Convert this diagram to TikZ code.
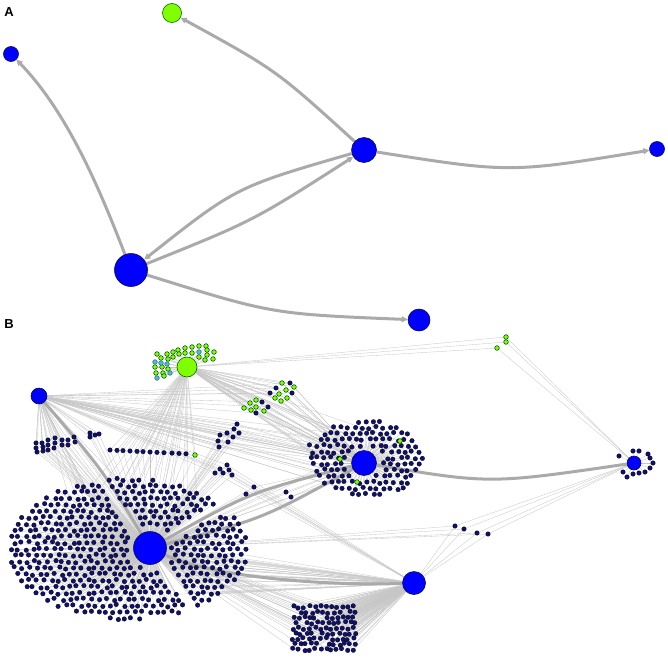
\documentclass[tikz,border=0pt]{standalone}
\usepackage{fontspec}
\setmainfont{Liberation Sans}
\usetikzlibrary{arrows.meta}
\definecolor{navyn}{RGB}{16,16,110}
\definecolor{hubblue}{RGB}{0,0,255}
\definecolor{chart}{RGB}{127,255,0}
\definecolor{cyn}{RGB}{64,192,208}
\definecolor{edgeg}{RGB}{170,170,170}
\definecolor{thing}{RGB}{198,198,198}
\pgfdeclarelayer{thinL}
\pgfdeclarelayer{thickL}
\pgfsetlayers{thinL,thickL,main}
\gdef\edgelist{}
\newcommand\myaddedge[2]{\ifx\edgelist\empty\xdef\edgelist{#1/#2}\else\xdef\edgelist{\edgelist,#1/#2}\fi}
\tikzset{
 hubn/.style={circle, fill=hubblue, draw=navyn!70!black, line width=0.6pt, inner sep=0pt, minimum size=#1},
 greenhub/.style={circle, fill=chart, draw=black!60!green, line width=0.6pt, inner sep=0pt, minimum size=#1},
 sn/.style={circle, fill=navyn, draw=black, line width=0.25pt, inner sep=0pt, minimum size=4.6pt},
 sg/.style={circle, fill=chart, draw=black!65!green, line width=0.6pt, inner sep=0pt, minimum size=4.6pt},
 sc/.style={circle, fill=cyn, draw=black!55!cyan, line width=0.6pt, inner sep=0pt, minimum size=4.6pt},
 thickE/.style={draw=edgeg, line width=3pt},
 thinE/.style={draw=thing, line width=0.33pt},
 arr/.style={-{Triangle[length=6pt,width=6pt]}},
 lab/.style={font=\fontsize{13}{13}\selectfont\bfseries, inner sep=0pt},
}
\begin{document}
\begin{tikzpicture}[x=1pt,y=-1pt]
\useasboundingbox (0,0) rectangle (668,658);
\pgfmathsetseed{12345}

% ---------------- labels
\node[lab] (labA) at (9,12) {A};
\node[lab] (labB) at (9,324) {B};

% ---------------- panel A
\node[greenhub=19pt] (ag) at (172,13) {};
\node[hubn=15pt] (a1) at (11,54) {};
\node[hubn=25pt] (a2) at (364,150) {};
\node[hubn=15pt] (a3) at (657,149) {};
\node[hubn=33pt] (a4) at (131,270) {};
\node[hubn=22pt] (a5) at (419,320) {};

% ---------------- panel B hubs
\node[greenhub=20pt] (G2) at (187,367) {};
\node[hubn=16pt] (B1) at (39,396) {};
\node[hubn=25pt] (H2) at (364,463) {};
\node[hubn=14pt] (B3) at (634,463) {};
\node[hubn=33pt] (H1) at (150,548) {};
\node[hubn=23pt] (B5) at (414,583) {};

\begin{pgfonlayer}{thickL}
\draw[thickE,arr] (a4) .. controls (100,190) and (68,113) .. (a1);
\draw[thickE,arr] (a2) .. controls (276,70) .. (ag);
\draw[thickE,arr] (a2) .. controls (236,187) .. (a4);
\draw[thickE,arr] (a4) .. controls (253,221) .. (a2);
\draw[thickE,arr] (a2) .. controls (510,173) .. (a3);
\draw[thickE,arr] (a4) .. controls (272,314) .. (a5);
\draw[thickE] (H1) .. controls (101,468) .. (B1);
\draw[thickE] (H1) .. controls (251,492) .. (H2);
\draw[thickE] (H1) .. controls (262,519) .. (H2);
\draw[thickE] (H2) .. controls (490,484) .. (B3);
\draw[thickE] (H1) .. controls (215,578) and (330,586) .. (B5);
\end{pgfonlayer}

% ---------------- hub1 cluster (jittered hex grid in an ellipse)
\foreach \j in {-11,...,11}{
  \foreach \i in {-17,...,17}{
    \pgfmathsetmacro\px{128+7.3*\i+3.65*mod(\j+20,2)+1.4*rand}
    \pgfmathsetmacro\py{549+6.3*\j+1.3*rand}
    \pgfmathsetmacro\ee{((\px-128)/120)^2+((\py-549)/71)^2}
    \pgfmathsetmacro\dd{10*veclen((\px-150)/10,(\py-548)/10)}
    \pgfmathsetmacro\ca{abs((\px-39)*0.808-(\py-396)*0.59)}
    \pgfmathsetmacro\cu{abs(-(\px-150)*0.49-(\py-548)*0.872)+100*(\px<150)}
    \pgfmathtruncatemacro\ok{(\ee<1)*(\dd>21)*(\ca>4.5)*(\cu>4.5)}
    \ifnum\ok=1
      \node[sn] (p\i-\j) at (\px,\py) {};
      \pgfmathtruncatemacro\cb{(\px>175)*(\py>552)*(rnd<0.4)}
      \pgfmathtruncatemacro\cg{(\py<505)*(\px>85)*(\px<215)*(rnd<0.3)}
      \pgfmathtruncatemacro\cc{(\py<505)*(\px<120)*(rnd<0.25)}
      \myaddedge{H1}{p\i-\j}
      \ifnum\cb=1 \myaddedge{B5}{p\i-\j}\fi
      \ifnum\cg=1 \myaddedge{G2}{p\i-\j}\fi
      \ifnum\cc=1 \myaddedge{B1}{p\i-\j}\fi
    \fi
  }
}

% ---------------- hub2 cluster (jittered hex grid in an ellipse)
\foreach \j in {-7,...,7}{
  \foreach \i in {-9,...,9}{
    \pgfmathsetmacro\px{366+7*\i+3.5*mod(\j+20,2)+1.4*rand}
    \pgfmathsetmacro\py{458+6.1*\j+1.3*rand}
    \pgfmathsetmacro\ee{((\px-366)/60)^2+((\py-458)/40)^2+0.12*rnd}
    \pgfmathsetmacro\dd{10*veclen((\px-364)/10,(\py-463)/10)}
    \pgfmathtruncatemacro\ok{(\ee<1)*(\dd>17)}
    \ifnum\ok=1
      \node[sn] (s\i-\j) at (\px,\py) {};
      \pgfmathtruncatemacro\cg{(\px<365)*(\py<458)*(rnd<0.4)}
      \pgfmathtruncatemacro\cc{(\px<350)*(rnd<0.35)}
      \pgfmathtruncatemacro\ch{(\px<340)*(\py>462)*(rnd<0.5)}
      \myaddedge{H2}{s\i-\j}
      \ifnum\cg=1 \myaddedge{G2}{s\i-\j}\fi
      \ifnum\cc=1 \myaddedge{B1}{s\i-\j}\fi
      \ifnum\ch=1 \myaddedge{H1}{s\i-\j}\fi
    \fi
  }
}
\foreach \x/\y [count=\n] in {400/441,340/459,357/482}{
  \node[sg] (hg\n) at (\x,\y) {};
  \myaddedge{H2}{hg\n}\myaddedge{G2}{hg\n}
}

% ---------------- b5 cluster (grid)
\foreach \i in {0,...,11}{
  \foreach \j in {0,...,8}{
    \pgfmathsetmacro\px{293+5.5*\i+2.2*mod(\j,2)+1.3*rand}
    \pgfmathsetmacro\py{607+5.3*\j+1.3*rand}
    \pgfmathtruncatemacro\keep{(rnd>0.08)}
    \ifnum\keep=1
    \node[sn] (q\i-\j) at (\px,\py) {};
    \pgfmathtruncatemacro\ch{(rnd<0.22)}
    \myaddedge{B5}{q\i-\j}
    \ifnum\ch=1 \myaddedge{H1}{q\i-\j}\fi
    \fi
  }
}

% ---------------- green cluster around G2
\foreach \x/\y [count=\n] in {157/354,161/358,167/354,168/359,173/352,173/357,178/350,179/354,185/348,185/353,192/347,192/353,199/346,199/357,206/346,207/350,207/355,214/352,213/359,205/360,155/367,162/367,168/369,156/373,163/373,164/376}{
  \node[sg] (gg\n) at (\x,\y) {};
  \myaddedge{G2}{gg\n}
}
\foreach \x/\y [count=\n] in {199/352,155/362,161/363,167/364,170/373,157/378}{
  \node[sc] (gc\n) at (\x,\y) {};
  \myaddedge{G2}{gc\n}
}

% ---------------- group 2 (green + navy, right of G2)
\foreach \x/\y [count=\n] in {282/383,294/387,286/390,279/394,275/398,287/398,281/401,256/400,250/403,256/407,244/408,251/410,264/411}{
  \node[sg] (tg\n) at (\x,\y) {};
  \myaddedge{G2}{tg\n}\myaddedge{H2}{tg\n}
}
\foreach \x/\y [count=\n] in {290/383,276/388,270/393,292/393,262/402,268/407,256/413}{
  \node[sn] (tn\n) at (\x,\y) {};
  \myaddedge{G2}{tn\n}\myaddedge{H2}{tn\n}\myaddedge{B1}{tn\n}
}

% ---------------- group 6
\foreach \x/\y [count=\n] in {237/424,220/435,227/433,234/429,239/433,233/437,218/441,228/442,219/447}{
  \node[sn] (u\n) at (\x,\y) {};
  \myaddedge{B1}{u\n}\myaddedge{H2}{u\n}\myaddedge{H1}{u\n}
}

% ---------------- row of nodes
\foreach \x [count=\n] in {110,117,123,130,137,143,150,157,164,172,179,186}{
  \pgfmathsetmacro\y{450+(\x-110)*0.05}
  \node[sn] (r\n) at (\x,\y) {};
  \myaddedge{G2}{r\n}\myaddedge{H1}{r\n}
}
\node[sg] (rg) at (195,455) {};
\myaddedge{G2}{rg}\myaddedge{H1}{rg}

% ---------------- group 3 and 4 near B1
\foreach \x/\y [count=\n] in {36/443,36/448,37/452,42/443,43/447,43/451,48/440,48/445,48/450,55/438,55/443,54/448,62/440,62/445,68/440,68/445,74/437,75/442,90/433,90/437,95/435,99/434}{
  \node[sn] (v\n) at (\x,\y) {};
  \myaddedge{B1}{v\n}\myaddedge{H1}{v\n}
}

% ---------------- misc nodes between clusters
\foreach \x/\y [count=\n] in {227/465,220/469,215/473,223/473,229/470,232/475}{
  \node[sn] (w\n) at (\x,\y) {};
  \myaddedge{H1}{w\n}\myaddedge{B5}{w\n}\myaddedge{B1}{w\n}
}
\foreach \x/\y [count=\n] in {246/494,254/487,286/492,291/497}{
  \node[sn] (m\n) at (\x,\y) {};
  \myaddedge{H1}{m\n}\myaddedge{H2}{m\n}
}

% ---------------- group near B5 / B3
\foreach \x/\y [count=\n] in {455/526,464/529,477/533,488/534}{
  \node[sn] (z\n) at (\x,\y) {};
  \myaddedge{H1}{z\n}\myaddedge{B5}{z\n}\myaddedge{B3}{z\n}
}

% ---------------- green nodes top right
\foreach \x/\y [count=\n] in {506/337,506/342,497/348}{
  \node[sg] (k\n) at (\x,\y) {};
  \myaddedge{G2}{k\n}\myaddedge{B3}{k\n}
}

% ---------------- ring around B3
\foreach \x/\y [count=\n] in {619/456,633/451,639/451,648/454,650/458,653/463,650/468,645/472,639/473,633/474,627/477,623/472}{
  \node[sn] (b\n) at (\x,\y) {};
  \myaddedge{B3}{b\n}
}

% ---------------- all thin connectors, behind everything
\begin{pgfonlayer}{thinL}
\foreach \a/\b in \edgelist { \draw[thinE] (\a) -- (\b); }
\end{pgfonlayer}
\end{tikzpicture}
\end{document}
